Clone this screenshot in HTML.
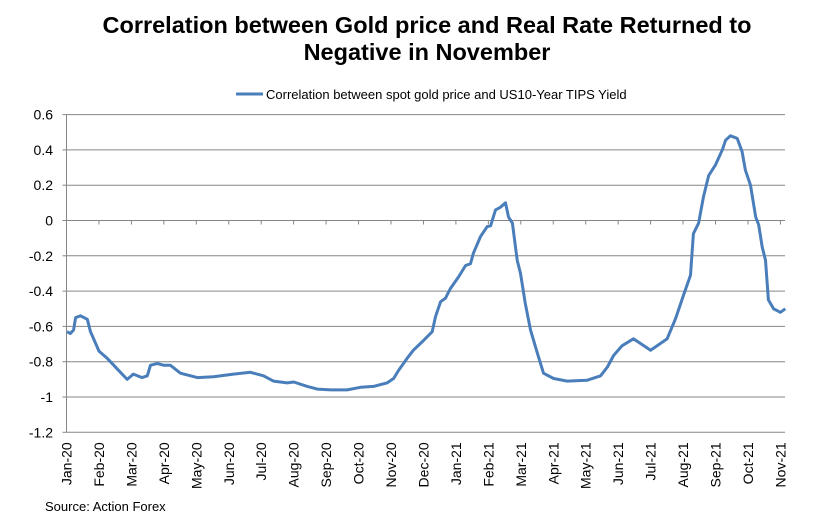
<!DOCTYPE html>
<html><head><meta charset="utf-8"><style>
body{margin:0;background:#fff;}
svg{display:block;font-family:"Liberation Sans",Arial,sans-serif;}
</style></head><body>
<svg id="chart" width="832" height="517">
<text x="427" y="33" text-anchor="middle" font-size="23.5" font-weight="bold">Correlation between Gold price and Real Rate Returned to</text>
<text x="427" y="60" text-anchor="middle" font-size="23.5" font-weight="bold">Negative in November</text>
<g>
<line x1="236" y1="94" x2="263" y2="94" stroke="#4a7ebb" stroke-width="3"/>
<text x="266" y="99" font-size="13">Correlation between spot gold price and US10-Year TIPS Yield</text>
</g>
<g id="grid"></g><g id="axes"></g><g id="series"></g>
<text x="45" y="511" font-size="13">Source: Action Forex</text>
</svg>
<script>
const monthLabels=["Jan-20","Feb-20","Mar-20","Apr-20","May-20","Jun-20","Jul-20","Aug-20","Sep-20","Oct-20","Nov-20","Dec-20","Jan-21","Feb-21","Mar-21","Apr-21","May-21","Jun-21","Jul-21","Aug-21","Sep-21","Oct-21","Nov-21"];
const yTicks=[0.6,0.4,0.2,0,-0.2,-0.4,-0.6,-0.8,-1,-1.2];
const monthPos=[0.02,0.12,0.22,0.28,0.43,0.64,0.74,1.0,1.25,1.56,1.87,2.06,2.33,2.49,2.59,2.8,2.99,3.2,3.51,4.03,4.53,5.15,5.67,6.07,6.38,6.8,7.0,7.42,7.73,8.14,8.65,9.06,9.46,9.88,10.08,10.23,10.5,10.69,11.0,11.27,11.37,11.53,11.68,11.83,12.08,12.3,12.45,12.54,12.76,12.96,13.07,13.22,13.37,13.53,13.62,13.74,13.89,13.99,14.14,14.3,14.51,14.7,15.01,15.43,16.05,16.46,16.67,16.86,17.12,17.47,18.0,18.24,18.51,18.77,19.01,19.23,19.32,19.48,19.63,19.79,20.0,20.21,20.31,20.46,20.67,20.82,20.92,21.08,21.24,21.33,21.44,21.54,21.63,21.79,22.0,22.15];
const corrValues=[-0.63,-0.64,-0.62,-0.55,-0.54,-0.56,-0.63,-0.74,-0.78,-0.84,-0.9,-0.87,-0.89,-0.88,-0.82,-0.81,-0.82,-0.82,-0.865,-0.89,-0.885,-0.87,-0.86,-0.88,-0.91,-0.92,-0.915,-0.94,-0.955,-0.96,-0.96,-0.945,-0.94,-0.92,-0.895,-0.85,-0.78,-0.735,-0.68,-0.63,-0.545,-0.46,-0.44,-0.385,-0.32,-0.255,-0.245,-0.185,-0.09,-0.035,-0.03,0.06,0.075,0.1,0.02,-0.015,-0.225,-0.3,-0.47,-0.62,-0.75,-0.865,-0.895,-0.91,-0.905,-0.88,-0.83,-0.765,-0.71,-0.67,-0.735,-0.705,-0.67,-0.555,-0.425,-0.31,-0.075,-0.015,0.135,0.255,0.315,0.4,0.455,0.48,0.465,0.39,0.285,0.2,0.02,-0.025,-0.15,-0.225,-0.45,-0.5,-0.52,-0.5];
const NS="http://www.w3.org/2000/svg";
const X0=66.5,XM=32.45,Y0=220.5,YS=176.5,XR=785;
const xs=m=>X0+m*XM, ys=v=>Y0-v*YS;
function mk(t,a,p){const e=document.createElementNS(NS,t);for(const k in a)e.setAttribute(k,a[k]);p.appendChild(e);return e;}
const grid=document.getElementById('grid'),axes=document.getElementById('axes'),ser=document.getElementById('series');
yTicks.forEach(v=>{
 const l=mk('line',{x1:X0,x2:XR,y1:ys(v),y2:ys(v),stroke:'#868686','stroke-width':1},grid);
 
 
 mk('line',{x1:X0-4,x2:X0,y1:ys(v),y2:ys(v),stroke:'#868686'},axes);
 const t=mk('text',{x:53,y:ys(v)+5,'text-anchor':'end','font-size':14},axes);
 t.textContent=String(v);
 
 
});
const ya=mk('line',{x1:X0,x2:X0,y1:ys(0.6),y2:ys(-1.2),stroke:'#868686'},axes);


monthLabels.forEach((lab,i)=>{
 const x=xs(i);
 mk('line',{x1:x,x2:x,y1:Y0,y2:Y0+4,stroke:'#868686'},axes);
 const t=mk('text',{x:0,y:0,'text-anchor':'end','font-size':14,transform:`translate(${x+5},${ys(-1.2)+10}) rotate(-90)`},axes);
 t.textContent=lab;
 
 
});
const d=monthPos.map((m,i)=>(i?'L':'M')+xs(m).toFixed(1)+','+ys(corrValues[i]).toFixed(1)).join('');
const p=mk('path',{d:d,fill:'none',stroke:'#4a7ebb','stroke-width':3,'stroke-linejoin':'round'},ser);


</script>
</body></html>
